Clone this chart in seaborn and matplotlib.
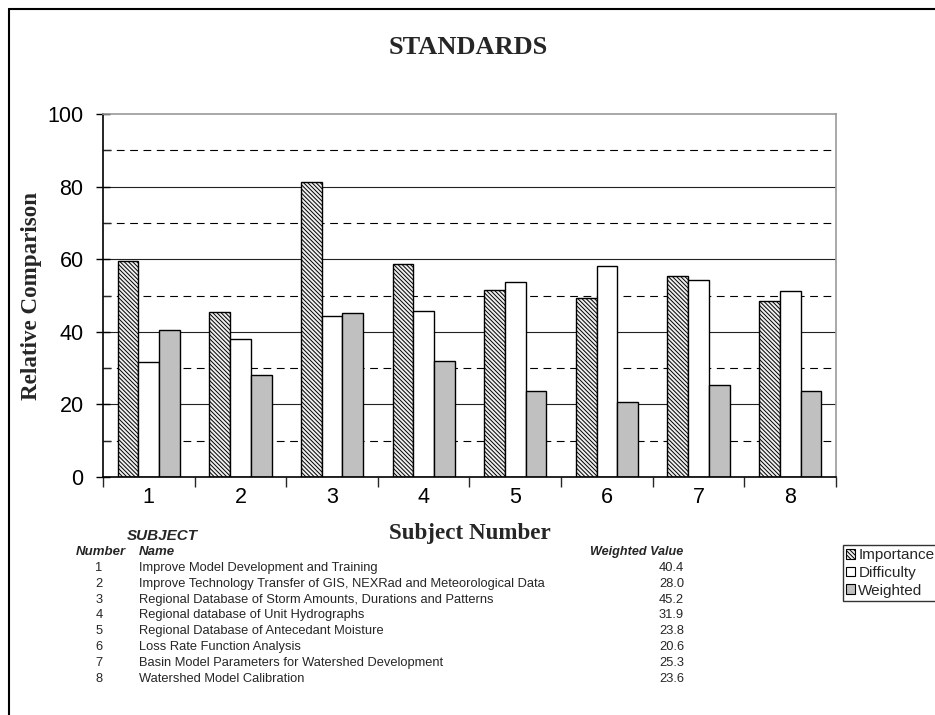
import matplotlib
matplotlib.use("Agg")
import numpy as np
import pandas as pd
import seaborn as sns
import matplotlib.pyplot as plt
from matplotlib.ticker import MultipleLocator, FixedLocator, NullFormatter
from matplotlib.lines import Line2D
from matplotlib.patches import Patch

# ---------------- data ----------------
subjects = ["1", "2", "3", "4", "5", "6", "7", "8"]
series = ["Importance", "Difficulty", "Weighted"]
importance = [59.4, 45.4, 81.3, 58.6, 51.5, 49.3, 55.5, 48.4]
difficulty = [31.8, 38.1, 44.3, 45.7, 53.7, 58.2, 54.3, 51.2]
weighted = [40.4, 28.0, 45.2, 31.9, 23.8, 20.6, 25.3, 23.6]
subject_names = [
    "Improve Model Development and Training",
    "Improve Technology Transfer of GIS, NEXRad and Meteorological Data",
    "Regional Database of Storm Amounts, Durations and Patterns",
    "Regional database of Unit Hydrographs",
    "Regional Database of Antecedant Moisture",
    "Loss Rate Function Analysis",
    "Basin Model Parameters for Watershed Development",
    "Watershed Model Calibration",
]
weighted_labels = ["40.4", "28.0", "45.2", "31.9", "23.8", "20.6", "25.3", "23.6"]
y_ticks = [0, 20, 40, 60, 80, 100]

df = pd.DataFrame({
    "Subject": subjects * 3,
    "Series": sum([[s] * len(subjects) for s in series], []),
    "Value": importance + difficulty + weighted,
})

# ---------------- style ----------------
sns.set_style("white")
plt.rcParams["font.family"] = ["Liberation Sans", "DejaVu Sans"]
plt.rcParams["hatch.linewidth"] = 0.7
plt.rcParams["hatch.color"] = "#555555"
SERIF = ["Liberation Serif", "DejaVu Serif"]
HATCH = "\\\\\\\\\\\\\\\\"

W, H = 935, 715
fig = plt.figure(figsize=(W / 100, H / 100), dpi=100)
ax = fig.add_axes([103 / W, 1 - 477 / H, (836 - 103) / W, (477 - 114) / H])

colors = {"Importance": "#ffffff", "Difficulty": "#ffffff", "Weighted": "#c0c0c0"}
sns.barplot(data=df, x="Subject", y="Value", hue="Series", order=subjects,
            hue_order=series, palette=colors, width=0.68, saturation=1,
            edgecolor="black", linewidth=1.0, ax=ax, legend=False)

# hatch for Importance bars
for p in ax.containers[0]:
    p.set_hatch(HATCH)
    p.set_facecolor("#eeeeee")

ax.set_xlim(-0.5, len(subjects) - 0.5)
ax.set_ylim(0, 100)

# y axis ticks and grid
ax.yaxis.set_major_locator(FixedLocator(y_ticks))
ax.yaxis.set_minor_locator(MultipleLocator(10))
ax.set_yticklabels([str(v) for v in y_ticks])
ax.tick_params(axis="y", which="major", direction="inout", length=10, width=1,
               pad=9, labelsize=15.5, colors="black", left=True)
ax.tick_params(axis="y", which="minor", direction="in", length=6, width=1, left=True)
ax.set_axisbelow(True)
ax.grid(True, which="major", axis="y", color="#222222", lw=0.8, ls="-")
ax.grid(True, which="minor", axis="y", color="#000000", lw=0.8, ls=(0, (7, 5)))
for gl, v in zip(ax.yaxis.get_gridlines(), y_ticks):
    if v in (0, 100):
        gl.set_visible(False)

# x axis ticks: labels at centres, tick marks at group boundaries
ax.tick_params(axis="x", which="major", length=0, pad=7, labelsize=15.5, colors="black")
ax.xaxis.set_minor_locator(FixedLocator(np.arange(-0.5, len(subjects), 1.0)))
ax.xaxis.set_minor_formatter(NullFormatter())
ax.tick_params(axis="x", which="minor", direction="out", length=7, width=1, bottom=True)

for s in ["left", "bottom"]:
    ax.spines[s].set_color("black")
    ax.spines[s].set_linewidth(1.2)
for s in ["top", "right"]:
    ax.spines[s].set_visible(True)
    ax.spines[s].set_color("#999999")
    ax.spines[s].set_linewidth(1.2)

ax.set_xlabel("")
ax.set_ylabel("")
fig.text(31 / W, 1 - 296 / H, "Relative Comparison", rotation=90, ha="center", va="center",
         fontsize=16.6, fontweight="bold", family=SERIF)

# title and x label
fig.text(468 / W, 1 - 48 / H, "STANDARDS", ha="center", va="center", fontsize=19,
         fontweight="bold", family=SERIF)
fig.text(470 / W, 1 - 533 / H, "Subject Number", ha="center", va="center", fontsize=16.6,
         fontweight="bold", family=SERIF)

# table below
fig.text(162 / W, 1 - 536 / H, "SUBJECT", ha="center", va="center", fontsize=11,
         fontweight="bold", style="italic")
fig.text(101 / W, 1 - 552 / H, "Number", ha="center", va="center", fontsize=9.5,
         fontweight="bold", style="italic")
fig.text(139 / W, 1 - 552 / H, "Name", ha="left", va="center", fontsize=9.5,
         fontweight="bold", style="italic")
fig.text(683 / W, 1 - 552 / H, "Weighted Value", ha="right", va="center", fontsize=9.1,
         fontweight="bold", style="italic")
for i, (num, name, val) in enumerate(zip(subjects, subject_names, weighted_labels)):
    y = 1 - (568 + i * 15.8) / H
    fig.text(99 / W, y, num, ha="center", va="center", fontsize=9.3)
    fig.text(139 / W, y, name, ha="left", va="center", fontsize=9.3)
    fig.text(684 / W, y, val, ha="right", va="center", fontsize=9.3)

# legend
handles = [
    Patch(facecolor="#eeeeee", edgecolor="black", hatch=HATCH, lw=0.8),
    Patch(facecolor="#ffffff", edgecolor="black", lw=0.8),
    Patch(facecolor="#c0c0c0", edgecolor="black", lw=0.8),
]
leg = fig.legend(handles, series, loc="upper left", bbox_to_anchor=(843 / W, 1 - 545 / H),
                 fontsize=11, frameon=True, fancybox=False, shadow=False,
                 handlelength=0.6, handleheight=0.6, handletextpad=0.2,
                 labelspacing=0.25, borderpad=0.2, borderaxespad=0)
leg.get_frame().set_edgecolor("black")
leg.get_frame().set_linewidth(1.0)

# outer chart frame (extends past right/bottom of the picture)
fig.add_artist(Line2D([9 / W, 1.0], [1 - 9 / H, 1 - 9 / H], transform=fig.transFigure,
                      color="black", lw=1.5))
fig.add_artist(Line2D([9 / W, 9 / W], [1 - 9 / H, 0.0], transform=fig.transFigure,
                      color="black", lw=1.5))

fig.savefig("out.png", dpi=100)
